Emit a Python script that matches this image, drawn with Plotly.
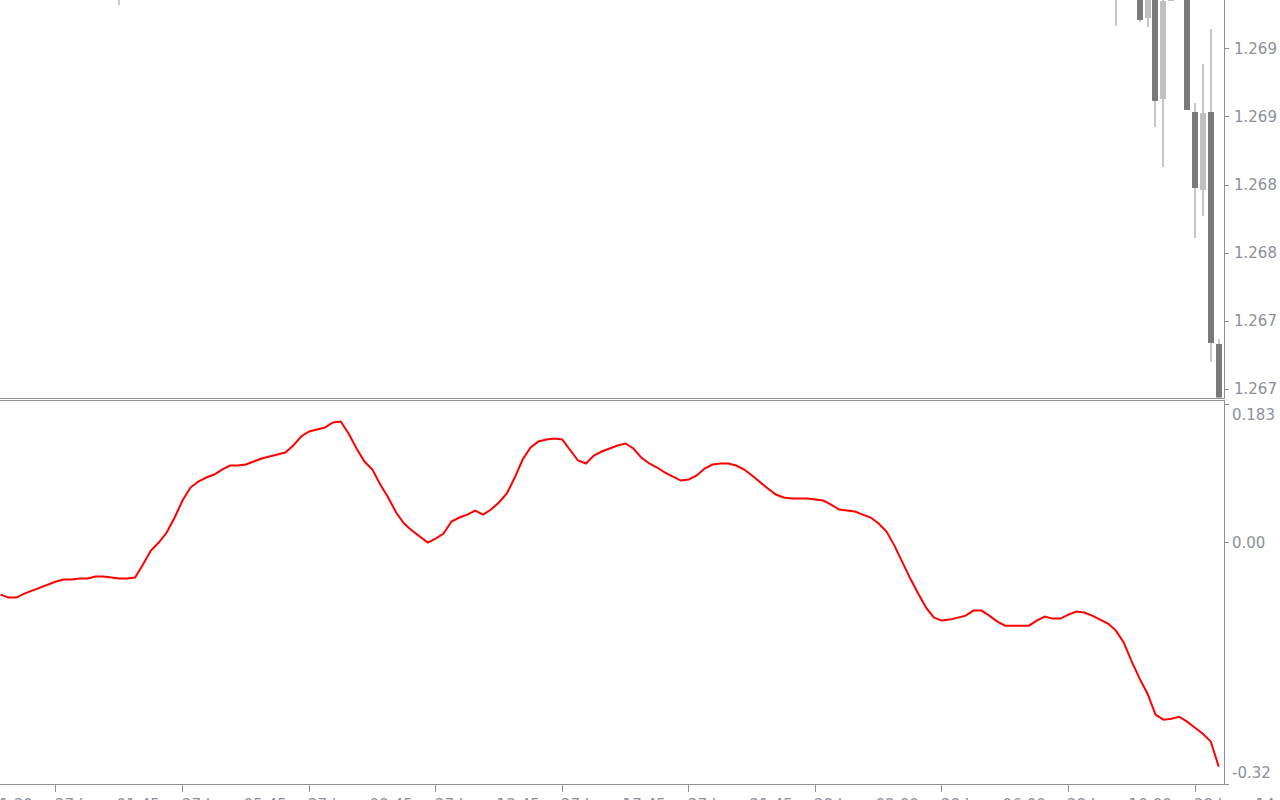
import plotly.graph_objects as go

# ---------------- data ----------------
# indicator value per bar (bar index 0..154)
line_values = [
    -0.0690, -0.0729, -0.0729, -0.0676, -0.0637, -0.0597, -0.0557, -0.0517, -0.0491, -0.0491,
    -0.0477, -0.0477, -0.0451, -0.0451, -0.0464, -0.0477, -0.0477, -0.0464, -0.0292, -0.0106,
    0.0000, 0.0133, 0.0332, 0.0557, 0.0729, 0.0809, 0.0862, 0.0902, 0.0968, 0.1021,
    0.1021, 0.1034, 0.1074, 0.1114, 0.1141, 0.1167, 0.1194, 0.1286, 0.1406, 0.1472,
    0.1499, 0.1525, 0.1592, 0.1605, 0.1446, 0.1247, 0.1074, 0.0968, 0.0769, 0.0597,
    0.0398, 0.0252, 0.0159, 0.0080, 0.0000, 0.0053, 0.0119, 0.0279, 0.0332, 0.0371,
    0.0424, 0.0371, 0.0438, 0.0531, 0.0650, 0.0862, 0.1101, 0.1260, 0.1340, 0.1366,
    0.1379, 0.1366, 0.1233, 0.1088, 0.1048, 0.1154, 0.1207, 0.1247, 0.1286, 0.1313,
    0.1247, 0.1127, 0.1048, 0.0995, 0.0928, 0.0875, 0.0822, 0.0836, 0.0889, 0.0981,
    0.1034, 0.1048, 0.1048, 0.1021, 0.0968, 0.0889, 0.0796, 0.0716, 0.0637, 0.0597,
    0.0584, 0.0584, 0.0584, 0.0570, 0.0557, 0.0504, 0.0438, 0.0424, 0.0411, 0.0371,
    0.0332, 0.0252, 0.0146, -0.0040, -0.0265, -0.0477, -0.0676, -0.0862, -0.0995, -0.1034,
    -0.1021, -0.0995, -0.0968, -0.0902, -0.0902, -0.0968, -0.1048, -0.1101, -0.1101, -0.1101,
    -0.1101, -0.1034, -0.0981, -0.1008, -0.1008, -0.0955, -0.0915, -0.0928, -0.0968, -0.1021,
    -0.1074, -0.1167, -0.1326, -0.1578, -0.1804, -0.2003, -0.2281, -0.2347, -0.2334, -0.2308,
    -0.2374, -0.2454, -0.2533, -0.2639, -0.2971,
]

# candles (only those reaching the visible price window)
candle_bars = [15, 141, 142, 143, 144, 145, 146, 147, 148, 149, 150, 151, 152, 153, 154]
opens  = [1.27000, 1.26995, 1.27010, 1.27030, 1.27005, 1.26973, 1.26995, 1.26913, 1.26985, 1.26992, 1.26995, 1.26904, 1.26846, 1.26904, 1.26733]
highs  = [1.27040, 1.27030, 1.27040, 1.27045, 1.27020, 1.27010, 1.27000, 1.27000, 1.27000, 1.27005, 1.27000, 1.26910, 1.26939, 1.26965, 1.26737]
lows   = [1.26982, 1.26967, 1.26995, 1.27000, 1.26970, 1.26966, 1.26893, 1.26863, 1.26985, 1.26988, 1.26905, 1.26811, 1.26827, 1.26720, 1.26670]
closes = [1.27020, 1.27010, 1.27030, 1.27005, 1.26971, 1.26995, 1.26912, 1.26985, 1.26992, 1.27000, 1.26905, 1.26848, 1.26903, 1.26734, 1.26680]

price_tickvals = [1.2695, 1.2690, 1.2685, 1.2680, 1.2675, 1.2670]
price_ticktext = ["1.269", "1.269", "1.268", "1.268", "1.267", "1.267"]

ind_tickvals = [0.183, 0.0, -0.32]
ind_ticktext = ["0.183", "0.00", "-0.32"]

time_tick_bars = [-9, 7, 23, 39, 55, 71, 87, 103, 119, 135, 151]
time_tick_dates = ["26 Jun", "27 Jun", "27 Jun", "27 Jun", "27 Jun", "27 Jun", "27 Jun",
                   "28 Jun", "28 Jun", "28 Jun", "28 Jun"]
time_tick_times = ["21:30", "01:45", "05:45", "09:45", "13:45", "17:45", "21:45",
                   "02:00", "06:00", "10:00", "14:00"]

# ---------------- style ----------------
AXIS = "#8e9196"
TXT = "#8c909c"
FONT = "DejaVu Sans"
DARK = "#7a7a7a"
LIGHT = "#c0c0c0"
WICK = "#c6c6c6"
BAR_PX = 7.91        # pixels per bar
PLOT_W = 1224

x_range = [-0.6 / BAR_PX, (PLOT_W - 0.6) / BAR_PX]

fig = go.Figure()

# wicks
fig.add_trace(go.Bar(
    x=candle_bars, base=lows, y=[h - l for h, l in zip(highs, lows)],
    width=0.14, marker=dict(color=WICK, line=dict(width=0)),
    xaxis="x", yaxis="y", showlegend=False, hoverinfo="skip"))
# bodies
fig.add_trace(go.Bar(
    x=candle_bars, base=[min(o, c) for o, c in zip(opens, closes)],
    y=[abs(c - o) for o, c in zip(opens, closes)],
    width=0.76,
    marker=dict(color=[DARK if c < o else LIGHT for o, c in zip(opens, closes)], line=dict(width=0)),
    xaxis="x", yaxis="y", showlegend=False, hoverinfo="skip"))

# indicator line
fig.add_trace(go.Scatter(
    x=list(range(len(line_values))), y=line_values, mode="lines",
    line=dict(color="#ff0000", width=2),
    xaxis="x2", yaxis="y2", showlegend=False))

H = 784.0
upper_dom = [(H - 397.5) / H, 1.0]
lower_dom = [0.0, (H - 400.5) / H]

SEP = "\u00a0\u00a0\u00a0"
annotations = []
for b, d, t in zip(time_tick_bars, time_tick_dates, time_tick_times):
    txt = d + SEP + t
    if b < 0:
        annotations.append(dict(xref="paper", x=0, xanchor="left",
                                xshift=0.6 + b * BAR_PX - 3,
                                yref="paper", y=0, yanchor="top", yshift=-10,
                                text=txt, showarrow=False,
                                font=dict(family=FONT, size=15, color=TXT)))
    else:
        annotations.append(dict(xref="x2", x=b, xanchor="left", xshift=-3,
                                yref="paper", y=0, yanchor="top", yshift=-10,
                                text=txt, showarrow=False,
                                font=dict(family=FONT, size=15, color=TXT)))

for v, t, sh in zip(ind_tickvals, ind_ticktext, [-10, 0, 11]):
    annotations.append(dict(xref="paper", x=1, xanchor="left", xshift=6,
                            yref="y2", y=v, yanchor="middle", yshift=sh,
                            text=t, showarrow=False,
                            font=dict(family=FONT, size=15, color=TXT)))

fig.update_layout(
    width=1280, height=800,
    margin=dict(l=0, r=56, t=0, b=16, pad=0),
    paper_bgcolor="white", plot_bgcolor="white",
    barmode="overlay", bargap=0,
    font=dict(family=FONT, size=15, color=TXT),
    xaxis=dict(domain=[0, 1], range=x_range, anchor="y",
               showline=True, linecolor=AXIS, linewidth=1,
               ticks="", showticklabels=False, showgrid=False, zeroline=False),
    yaxis=dict(domain=upper_dom, range=[1.266938, 1.269860], anchor="x", side="right",
               showline=True, linecolor=AXIS, linewidth=1,
               ticks="outside", ticklen=4, tickcolor=AXIS, tickwidth=1,
               tickvals=price_tickvals, ticktext=price_ticktext,
               ticklabelstandoff=2,
               tickfont=dict(family=FONT, size=15, color=TXT),
               showgrid=False, zeroline=False),
    xaxis2=dict(domain=[0, 1], range=x_range, anchor="y2",
                showline=True, mirror=True, linecolor=AXIS, linewidth=1,
                ticks="outside", ticklen=7, tickcolor=AXIS, tickwidth=1,
                tickvals=[b for b in time_tick_bars if b >= 0],
                showticklabels=False, showgrid=False, zeroline=False),
    yaxis2=dict(domain=lower_dom, range=[-0.32, 0.1883], anchor="x2", side="right",
                showline=True, linecolor=AXIS, linewidth=1,
                ticks="outside", ticklen=4, tickcolor=AXIS, tickwidth=1,
                tickvals=ind_tickvals, showticklabels=False,
                showgrid=False, zeroline=False),
    annotations=annotations,
    hovermode=False,
)

fig.write_html("out.html", post_script="document.body.style.margin='0';",
               config={"displayModeBar": False})
